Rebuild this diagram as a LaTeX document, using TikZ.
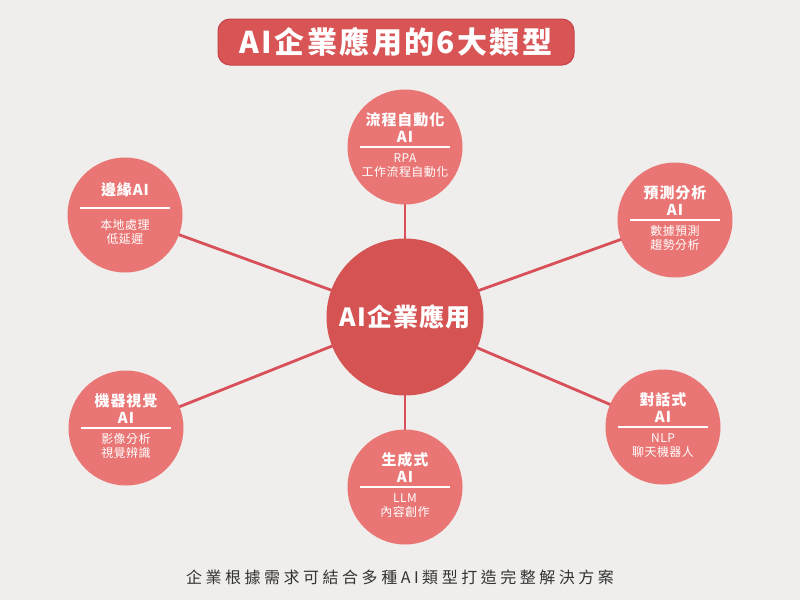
\documentclass[tikz,border=0pt]{standalone}
\usepackage{fontspec}
\setmainfont{Noto Sans CJK TC}
\usetikzlibrary{backgrounds}
\definecolor{bgc}{HTML}{F0EEEC}
\definecolor{titlered}{HTML}{D95455}
\definecolor{titleedge}{HTML}{C8424A}
\definecolor{centerred}{HTML}{D65354}
\definecolor{satred}{HTML}{E97574}
\definecolor{linered}{HTML}{D8505A}
\definecolor{footc}{HTML}{333333}
\tikzset{
  sat/.style={circle, fill=satred, minimum size=115pt, inner sep=0pt},
  hub/.style={circle, fill=centerred, minimum size=157pt, inner sep=0pt},
  sattitle/.style={text=white, inner sep=0pt, font=\fontsize{15}{15}\selectfont\bfseries\addfontfeature{LetterSpace=6}},
  satsub/.style={text=white, inner sep=0pt, font=\fontsize{12}{12}\selectfont\addfontfeature{LetterSpace=4}},
  divider/.style={draw=white, line width=1.8pt},
  conn/.style={draw=linered, line width=2.8pt},
}
\newcommand\mysat[6]{%
  \node[sat] (#1) at (#2,#3) {};
  \node[sattitle] (#1a) at (#2,#3-27) {#4};
  \node[sattitle] (#1b) at (#2,#3-10) {AI};
  \coordinate (#1l) at (#2-45,#3);
  \coordinate (#1r) at (#2+45,#3);
  \draw[divider] (#1l) -- (#1r);
  \node[satsub] (#1c) at (#2,#3+11) {#5};
  \node[satsub] (#1d) at (#2,#3+25) {#6};
}
\begin{document}
\begin{tikzpicture}[x=1pt,y=-1pt]
  \useasboundingbox (0,0) rectangle (800,600);
  % title
  \node[fill=titlered, draw=titleedge, line width=1pt, rounded corners=12pt,
        minimum width=356pt, minimum height=46pt, inner sep=0pt,
        text=white, font=\fontsize{30}{30}\selectfont\bfseries\addfontfeature{LetterSpace=8}]
        (title) at (396,42) {AI企業應用的6大類型};
  % hub
  \node[hub, text=white, font=\fontsize{25}{25}\selectfont\bfseries\addfontfeature{LetterSpace=5}]
        (hub) at (405,317) {AI企業應用};
  % satellites
  \mysat{flow}{405}{147}{流程自動化}{RPA}{工作流程自動化}
  \mysat{pred}{675}{220}{預測分析}{數據預測}{趨勢分析}
  \mysat{chat}{663}{427}{對話式}{NLP}{聊天機器人}
  \mysat{gen}{405}{487}{生成式}{LLM}{內容創作}
  \mysat{vis}{126}{428}{機器視覺}{影像分析}{視覺辨識}
  % edge AI (single-line title)
  \node[sat] (edge) at (125,215) {};
  \node[sattitle] (edgea) at (125,190) {邊緣AI};
  \coordinate (edgel) at (80,208);
  \coordinate (edger) at (170,208);
  \draw[divider] (edgel) -- (edger);
  \node[satsub] (edgec) at (125,225) {本地處理};
  \node[satsub] (edged) at (125,239) {低延遲};
  % background and connectors
  \begin{pgfonlayer}{background}
    \fill[bgc] (0,0) rectangle (800,600);
    \draw[conn] (hub.center) -- (flow.center);
    \draw[conn] (hub.center) -- (pred.center);
    \draw[conn] (hub.center) -- (chat.center);
    \draw[conn] (hub.center) -- (gen.center);
    \draw[conn] (hub.center) -- (vis.center);
    \draw[conn] (hub.center) -- (edge.center);
  \end{pgfonlayer}
  % footer
  \node[text=footc, inner sep=0pt, font=\fontsize{16}{16}\selectfont\addfontfeature{LetterSpace=22}]
        (foot) at (400,577) {企業根據需求可結合多種AI類型打造完整解決方案};
\end{tikzpicture}
\end{document}
